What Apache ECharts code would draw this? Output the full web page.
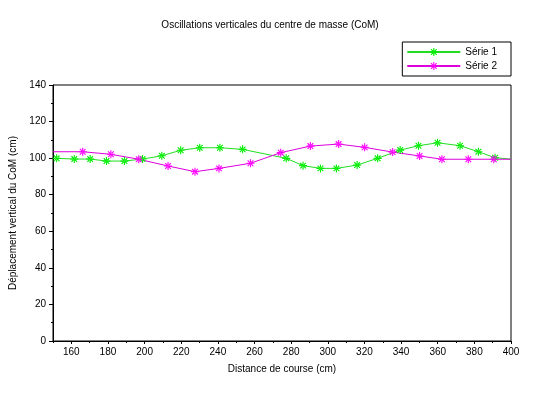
<!DOCTYPE html>
<html><head><meta charset="utf-8">
<script src="https://cdn.jsdelivr.net/npm/echarts@6/dist/echarts.min.js"></script>
<style>html,body{margin:0;padding:0;background:#fff}#c{width:540px;height:393px}</style>
</head><body><div id="c"></div>
<script>
var titleText = "Oscillations verticales du centre de masse (CoM)";
var xName = "Distance de course (cm)";
var yName = "Déplacement vertical du CoM (cm)";
var seriesNames = ["Série 1", "Série 2"];
var s1x = [152.0, 161.6, 170.3, 179.2, 189.0, 198.9, 209.4, 219.7, 230.1, 241.1, 253.5, 277.3, 286.5, 296.0, 304.7, 316.0, 327.2, 339.5, 349.5, 359.9, 372.2, 382.2, 391.3, 400];
var s1y = [99.9, 99.5, 99.5, 98.4, 98.4, 99.5, 101.3, 104.3, 105.7, 105.7, 104.8, 99.9, 95.9, 94.4, 94.4, 96.2, 99.9, 104.4, 106.8, 108.4, 106.8, 103.5, 100.2, 99.5];
var s2x = [150, 166.2, 181.6, 196.8, 212.8, 227.5, 240.6, 257.8, 274.3, 290.5, 305.9, 320.1, 335.4, 350.1, 362.3, 376.7, 390.6, 400];
var s2y = [103.5, 103.5, 102.1, 99.4, 95.7, 92.6, 94.4, 97.2, 103.0, 106.6, 107.7, 105.9, 103.3, 101.2, 99.4, 99.4, 99.4, 99.4];
var xMajor = [160, 180, 200, 220, 240, 260, 280, 300, 320, 340, 360, 380, 400];
var xMinor = [150, 170, 190, 210, 230, 250, 270, 290, 310, 330, 350, 370, 390];
var xMin = 150, xMax = 400;

var star = 'path://M0 4.3L10 4.3L10 5.7L0 5.7Z M4.3 0L5.7 0L5.7 10L4.3 10Z M1.96 0.97L9.04 8.05L8.04 9.04L0.97 1.96Z M1.96 9.04L9.04 1.96L8.04 0.97L0.97 8.04Z';
var font = 'Liberation Sans';
function pairs(xs, ys){
  return xs.map(function(x,i){
    var item = {value:[x, ys[i]]};
    if (x <= xMin || x >= xMax) item.symbol = 'none';
    return item;
  });
}

var chart = echarts.init(document.getElementById('c'), null, {renderer:'canvas'});
chart.setOption({
  animation:false,
  backgroundColor:'#fff',
  title:{text:titleText, left:'center', top:15, textStyle:{fontFamily:font, fontSize:10, fontWeight:'normal', color:'#000'}},
  legend:{
    right:29, top:42, orient:'vertical', itemGap:4,
    padding:[5,14,5,4], borderColor:'#000', borderWidth:1,
    itemWidth:53, itemHeight:10,
    textStyle:{fontFamily:font, fontSize:10, color:'#000'},
    data:seriesNames
  },
  grid:{left:52, right:29, top:85, bottom:52, show:true, borderColor:'#000', borderWidth:1, containLabel:false},
  xAxis:[{
    type:'value', min:xMin, max:xMax,
    name:xName, nameLocation:'middle', nameGap:23,
    nameTextStyle:{fontFamily:font, fontSize:10, color:'#000'},
    axisLine:{show:true, onZero:false, lineStyle:{color:'#000'}},
    axisTick:{show:true, length:3, customValues:xMajor, lineStyle:{color:'#000'}},
    axisLabel:{customValues:xMajor, fontFamily:font, fontSize:10, color:'#000', margin:6},
    splitLine:{show:false}
  },{
    type:'value', min:xMin, max:xMax, position:'bottom',
    axisLine:{show:false},
    axisTick:{show:true, length:2, customValues:xMinor, lineStyle:{color:'#000'}},
    axisLabel:{show:false},
    splitLine:{show:false}
  }],
  yAxis:{
    type:'value', min:0, max:140, interval:20,
    name:yName, nameLocation:'middle', nameGap:35,
    nameTextStyle:{fontFamily:font, fontSize:10, color:'#000'},
    axisLine:{show:true, lineStyle:{color:'#000'}},
    axisTick:{show:true, length:4, lineStyle:{color:'#000'}},
    minorTick:{show:true, splitNumber:2, length:2, lineStyle:{color:'#000'}},
    axisLabel:{fontFamily:font, fontSize:10, color:'#000', margin:7},
    splitLine:{show:false}
  },
  series:[{
    name:seriesNames[0], type:'line', xAxisIndex:0, data:pairs(s1x, s1y),
    symbol:star, symbolSize:8, showAllSymbol:true,
    lineStyle:{color:'#22dd22', width:1},
    itemStyle:{color:'#00ee00'}
  },{
    name:seriesNames[1], type:'line', xAxisIndex:0, data:pairs(s2x, s2y),
    symbol:star, symbolSize:8, showAllSymbol:true,
    lineStyle:{color:'#dd00dd', width:1},
    itemStyle:{color:'#ff00ff'}
  }]
});
</script></body></html>
